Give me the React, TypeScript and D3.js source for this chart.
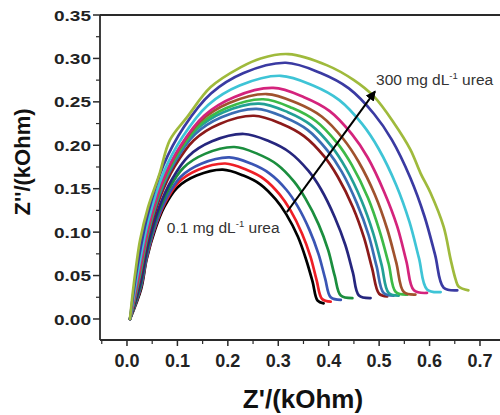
import React from "react";
import * as d3 from "d3";

type P = [number, number];

const s01Black: P[] = [[.006,0],[.028,.0344],[.039,.0688],[.056,.1032],[.074,.129],[.100,.1514],[.138,.1651],[.19,.172],[.231,.1651],[.265,.1548],[.295,.1376],[.316,.1204],[.339,.0946],[.355,.0688],[.368,.043],[.378,.021],[.39,.018]];
const s02Red: P[] = [[.006,0],[.0273,.0358],[.0395,.0716],[.0568,.1074],[.076,.1343],[.1025,.1575],[.1413,.1718],[.195,.179],[.237,.1718],[.272,.1611],[.303,.1432],[.324,.1253],[.347,.0985],[.364,.0716],[.376,.0448],[.387,.023],[.404,.02]];
const s03Blue: P[] = [[.006,0],[.0275,.0372],[.0401,.0744],[.0583,.1116],[.0787,.1395],[.1067,.1637],[.1472,.1786],[.203,.186],[.247,.1786],[.283,.1674],[.316,.1488],[.338,.1302],[.362,.1023],[.380,.0744],[.393,.0465],[.404,.025],[.424,.022]];
const s04Green: P[] = [[.006,0],[.0271,.0396],[.0404,.0792],[.0598,.1188],[.0819,.1485],[.112,.1742],[.1546,.1901],[.213,.198],[.259,.1901],[.297,.1782],[.331,.1584],[.354,.1386],[.380,.1089],[.399,.0792],[.412,.0495],[.424,.027],[.447,.024]];
const s05Navy: P[] = [[.006,0],[.0271,.0426],[.0416,.0852],[.0632,.1278],[.0882,.1598],[.122,.1874],[.1686,.2045],[.232,.213],[.282,.2045],[.323,.1917],[.360,.1704],[.385,.1491],[.412,.1172],[.433,.0852],[.448,.0533],[.46,.027],[.483,.024]];
const s06Maroon: P[] = [[.006,0],[.026,.0468],[.0418,.0936],[.0658,.1404],[.0944,.1755],[.1326,.2059],[.1836,.2246],[.252,.234],[.307,.2246],[.351,.2106],[.391,.1872],[.418,.1638],[.448,.1287],[.470,.0936],[.486,.0585],[.50,.029],[.516,.026]];
const s07Steel: P[] = [[.006,0],[.0252,.0484],[.0414,.0968],[.0661,.1452],[.0958,.1815],[.1353,.213],[.1874,.2323],[.257,.242],[.312,.2323],[.358,.2178],[.398,.1936],[.426,.1694],[.456,.1331],[.479,.0968],[.495,.0605],[.509,.030],[.529,.027]];
const s08Teal: P[] = [[.006,0],[.0247,.0496],[.0412,.0992],[.0666,.1488],[.0973,.186],[.138,.2182],[.1912,.2381],[.262,.248],[.319,.2381],[.365,.2232],[.406,.1984],[.434,.1736],[.465,.1364],[.488,.0992],[.505,.062],[.519,.030],[.539,.027]];
const s09LightGreen: P[] = [[.006,0],[.0245,.0506],[.0416,.1012],[.0678,.1518],[.0999,.1898],[.1423,.2226],[.1972,.2429],[.27,.253],[.328,.2429],[.375,.2277],[.417,.2024],[.446,.1771],[.478,.1392],[.501,.1012],[.519,.0633],[.533,.031],[.556,.028]];
const s10Brown: P[] = [[.006,0],[.024,.0518],[.0416,.1036],[.0687,.1554],[.102,.1943],[.146,.2279],[.2024,.2486],[.277,.259],[.337,.2486],[.386,.2331],[.429,.2072],[.459,.1813],[.492,.1425],[.516,.1036],[.534,.0648],[.549,.031],[.572,.028]];
const s11Magenta: P[] = [[.006,0],[.0238,.0532],[.0422,.1064],[.0708,.1596],[.1062,.1995],[.1529,.2341],[.2121,.2554],[.29,.266],[.351,.2554],[.402,.2394],[.446,.2128],[.477,.1862],[.510,.1463],[.536,.1064],[.554,.0665],[.569,.033],[.595,.030]];
const s12Cyan: P[] = [[.006,0],[.0223,.056],[.0417,.112],[.0723,.168],[.1107,.21],[.1609,.2464],[.2234,.2688],[.305,.28],[.369,.2688],[.421,.252],[.467,.224],[.499,.196],[.534,.154],[.560,.112],[.579,.07],[.595,.034],[.622,.031]];
const s13Indigo: P[] = [[.006,0],[.0202,.059],[.0402,.118],[.0723,.177],[.1132,.2213],[.1665,.2596],[.2312,.2832],[.315,.295],[.384,.2832],[.440,.2655],[.490,.236],[.525,.2065],[.562,.1623],[.590,.118],[.611,.0738],[.628,.036],[.655,.033]];
const s14Olive: P[] = [[.006,0],[.012,.033],[.018,.06],[.026,.091],[.042,.129],[.065,.168],[.085,.206],[.12,.233],[.166,.267],[.226,.29],[.265,.30],[.32,.305],[.397,.292],[.45,.275],[.49,.256],[.529,.226],[.562,.195],[.582,.168],[.602,.145],[.628,.106],[.642,.068],[.652,.045],[.658,.037],[.677,.033]];

const seriesData: P[][] = [s01Black, s02Red, s03Blue, s04Green, s05Navy, s06Maroon, s07Steel, s08Teal, s09LightGreen, s10Brown, s11Magenta, s12Cyan, s13Indigo, s14Olive];
const seriesColors = ["#000000", "#ee1f26", "#3a55b4", "#1b8e3e", "#26267e", "#8c1a1a", "#3b6cb3", "#22a096", "#3dba47", "#a0522d", "#d4237c", "#3ec4d6", "#3a3aa2", "#9fba3c"];

const xMajorTicks = [0, 0.1, 0.2, 0.3, 0.4, 0.5, 0.6, 0.7];
const xMajorLabels = ["0.0", "0.1", "0.2", "0.3", "0.4", "0.5", "0.6", "0.7"];
const xMinorTicks = [-0.05, 0.05, 0.15, 0.25, 0.35, 0.45, 0.55, 0.65];
const yMajorTicks = [0, 0.05, 0.1, 0.15, 0.2, 0.25, 0.3, 0.35];
const yMajorLabels = ["0.00", "0.05", "0.10", "0.15", "0.20", "0.25", "0.30", "0.35"];
const yMinorTicks = [0.025, 0.075, 0.125, 0.175, 0.225, 0.275, 0.325];

const arrowFrom: P = [0.317, 0.123];
const arrowTo: P = [0.492, 0.262];
const labelHigh: P = [0.494, 0.269];
const labelLow: P = [0.079, 0.099];

export default function App() {
  const left = 100, right = 505.2, top = 15, bottom = 340;
  const x = d3.scaleLinear().domain([-0.0535, 0.75]).range([left, right]);
  const y = d3.scaleLinear().domain([-0.0242, 0.35]).range([bottom, top]);
  const line = d3
    .line<P>()
    .x((d) => x(d[0]))
    .y((d) => y(d[1]))
    .curve(d3.curveCatmullRom.alpha(0.5));
  const font = "'Liberation Sans', Arial, Helvetica, sans-serif";
  const axisColor = "#2a2a2a";

  return (
    <svg
      width={500}
      height={415}
      style={{ position: "absolute", left: 0, top: 0, background: "#fff" }}
      fontFamily={font}
    >
      <defs>
        <marker id="ah" viewBox="0 0 10 10" refX="9" refY="5" markerWidth="5" markerHeight="5" orient="auto">
          <path d="M0,0 L10,5 L0,10 z" fill="#000" />
        </marker>
      </defs>
      <rect x={0} y={0} width={500} height={415} fill="#fff" />
      {seriesData.map((pts, i) => (
        <path
          key={i}
          d={line(pts) || ""}
          fill="none"
          stroke={seriesColors[i]}
          strokeWidth={2.7}
          strokeLinejoin="round"
          strokeLinecap="round"
        />
      ))}
      <line
        x1={x(arrowFrom[0])}
        y1={y(arrowFrom[1])}
        x2={x(arrowTo[0])}
        y2={y(arrowTo[1])}
        stroke="#000"
        strokeWidth={2}
        markerEnd="url(#ah)"
      />
      <text x={x(labelHigh[0])} y={y(labelHigh[1])} fontSize={15.5} fill="#333">
        <tspan>300 mg dL</tspan>
        <tspan dy={-6} fontSize={9.5}>-1</tspan>
        <tspan dy={6}> urea</tspan>
      </text>
      <text x={x(labelLow[0])} y={y(labelLow[1])} fontSize={15.5} fill="#333">
        <tspan>0.1 mg dL</tspan>
        <tspan dy={-6} fontSize={9.5}>-1</tspan>
        <tspan dy={6}> urea</tspan>
      </text>
      {/* frame */}
      <line x1={left} y1={top} x2={500} y2={top} stroke={axisColor} strokeWidth={1.8} />
      <line x1={left} y1={top} x2={left} y2={bottom} stroke={axisColor} strokeWidth={1.8} />
      <line x1={left} y1={bottom} x2={500} y2={bottom} stroke={axisColor} strokeWidth={1.8} />
      {/* y ticks */}
      {yMajorTicks.map((t, i) => (
        <g key={"ym" + i}>
          <line x1={left - 7} x2={left} y1={y(t)} y2={y(t)} stroke={axisColor} strokeWidth={1.5} />
          <text
            x={left - 9}
            y={y(t)}
            dy="0.36em"
            textAnchor="end"
            fontSize={15.5}
            fontWeight="bold"
            fill="#222"
            textLength={37}
            lengthAdjust="spacingAndGlyphs"
          >
            {yMajorLabels[i]}
          </text>
        </g>
      ))}
      {yMinorTicks.map((t, i) => (
        <line key={"yn" + i} x1={left - 4} x2={left} y1={y(t)} y2={y(t)} stroke={axisColor} strokeWidth={1.2} />
      ))}
      {/* x ticks */}
      {xMajorTicks.map((t, i) => (
        <g key={"xm" + i}>
          <line x1={x(t)} x2={x(t)} y1={bottom} y2={bottom + 6} stroke={axisColor} strokeWidth={1.5} />
          <text x={x(t)} y={bottom + 27} textAnchor="middle" fontSize={18} fontWeight="bold" fill="#222">
            {xMajorLabels[i]}
          </text>
        </g>
      ))}
      {xMinorTicks.map((t, i) => (
        <line key={"xn" + i} x1={x(t)} x2={x(t)} y1={bottom} y2={bottom + 4} stroke={axisColor} strokeWidth={1.2} />
      ))}
      {/* titles */}
      <text x={303} y={408} textAnchor="middle" fontSize={26} fontWeight="bold" fill="#111">
        Z'/(kOhm)
      </text>
      <text
        transform="translate(30,162) rotate(-90)"
        textAnchor="middle"
        fontSize={22}
        fontWeight="bold"
        fill="#111"
      >
        Z''/(kOhm)
      </text>
    </svg>
  );
}
